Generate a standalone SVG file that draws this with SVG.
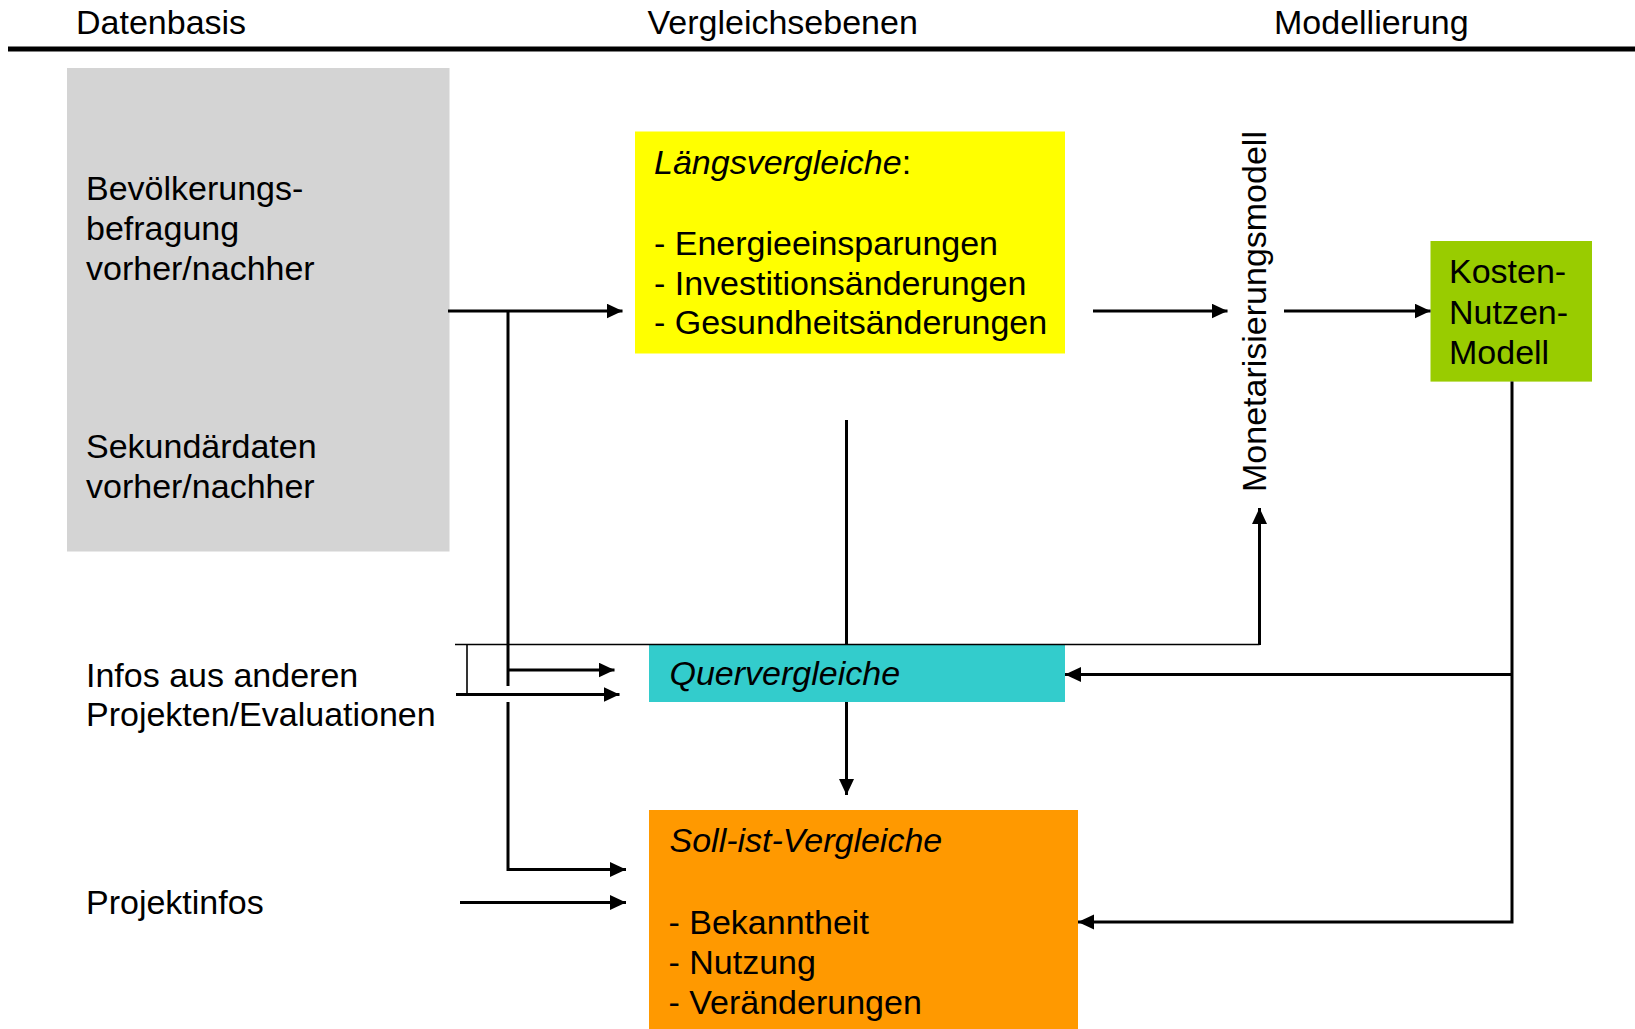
<svg xmlns="http://www.w3.org/2000/svg" width="1635" height="1029" viewBox="0 0 1635 1029">
<style>
text{font-family:"Liberation Sans",Arial,sans-serif;font-size:34px;fill:#000}
.it{font-style:italic}
.c{fill:none;stroke:#000;stroke-width:3}
.thin{fill:none;stroke:#000;stroke-width:1.6}
</style>
<defs>
<marker id="ah" markerUnits="userSpaceOnUse" markerWidth="16" markerHeight="16" refX="16" refY="7.5" orient="auto">
<path d="M0,0 L16,7.5 L0,15 z" fill="#000"/>
</marker>
</defs>
<rect width="1635" height="1029" fill="#fff"/>
<g id="header">
<text x="76" y="33.5">Datenbasis</text>
<text x="647.5" y="33.5">Vergleichsebenen</text>
<text x="1274" y="33.5">Modellierung</text>
<line x1="8" y1="49" x2="1635" y2="49" stroke="#000" stroke-width="5"/>
</g>
<g id="datenbasis">
<rect x="67" y="68" width="382.5" height="483.5" fill="#d4d4d4"/>
<text x="86" y="199.5">Bevölkerungs-</text>
<text x="86" y="239.5">befragung</text>
<text x="86" y="279.5">vorher/nachher</text>
<text x="86" y="457.5">Sekundärdaten</text>
<text x="86" y="497.5">vorher/nachher</text>
</g>
<g id="infos">
<text x="86" y="686.5">Infos aus anderen</text>
<text x="86" y="726">Projekten/Evaluationen</text>
</g>
<g id="projektinfos">
<text x="86" y="914">Projektinfos</text>
</g>
<g id="laengsvergleiche">
<rect x="635" y="131.5" width="430" height="222" fill="#ffff00"/>
<text x="654" y="173.5"><tspan class="it">Längsvergleiche</tspan>:</text>
<text x="654" y="254.5">- Energieeinsparungen</text>
<text x="654" y="294.5">- Investitionsänderungen</text>
<text x="654" y="334">- Gesundheitsänderungen</text>
</g>
<g id="monetarisierung">
<text transform="translate(1266,492) rotate(-90)">Monetarisierungsmodell</text>
</g>
<g id="kostennutzen">
<rect x="1430.5" y="241" width="161.5" height="140.6" fill="#99cc00"/>
<text x="1449" y="283">Kosten-</text>
<text x="1449" y="323.5">Nutzen-</text>
<text x="1449" y="364">Modell</text>
</g>
<g id="quervergleiche">
<rect x="649" y="644.5" width="416" height="57.5" fill="#33cccc"/>
<text class="it" x="669.5" y="685">Quervergleiche</text>
</g>
<g id="sollist">
<rect x="649" y="810" width="429" height="219" fill="#ff9900"/>
<text class="it" x="669.5" y="852">Soll-ist-Vergleiche</text>
<text x="668.5" y="933.5">- Bekanntheit</text>
<text x="668.5" y="973.5">- Nutzung</text>
<text x="668.5" y="1013.5">- Veränderungen</text>
</g>
<g id="connectors">
<path class="c" d="M448,311 H622.5" marker-end="url(#ah)"/>
<path class="c" d="M508,311 V686"/>
<path class="c" d="M508,702 V869.5 H626" marker-end="url(#ah)"/>
<path class="c" d="M508,670 H614.5" marker-end="url(#ah)"/>
<path class="c" d="M456,694.5 H619.5" marker-end="url(#ah)"/>
<path class="thin" d="M455,644.5 H1259.5"/>
<path class="thin" d="M467,644.5 V694"/>
<path class="c" d="M1259.5,645 V508" marker-end="url(#ah)"/>
<path class="c" d="M1093,311 H1227.5" marker-end="url(#ah)"/>
<path class="c" d="M1284,311 H1430.5" marker-end="url(#ah)"/>
<path class="c" d="M1512,381.6 V922 H1078" marker-end="url(#ah)"/>
<path class="c" d="M1512,674.5 H1065" marker-end="url(#ah)"/>
<path class="c" d="M846.5,420 V644.5"/>
<path class="c" d="M846.5,702 V795" marker-end="url(#ah)"/>
<path class="c" d="M460,902.5 H626" marker-end="url(#ah)"/>
</g>
</svg>
